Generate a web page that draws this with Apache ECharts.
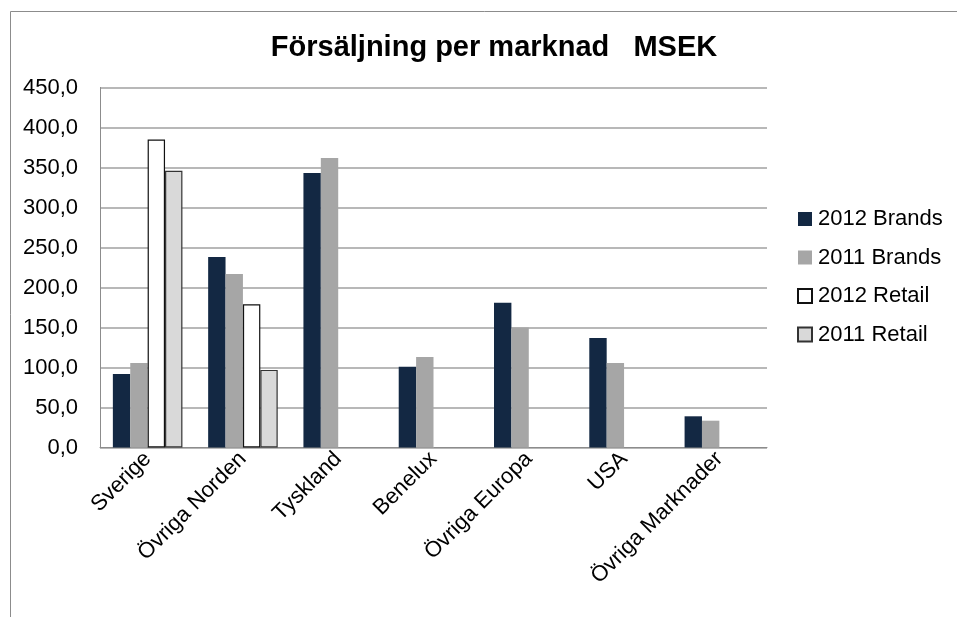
<!DOCTYPE html>
<html>
<head>
<meta charset="utf-8">
<script src="https://cdn.jsdelivr.net/npm/echarts@6/dist/echarts.min.js"></script>
<style>html,body{margin:0;padding:0;background:#fff}#c{width:957px;height:617px}</style>
</head>
<body>
<div id="c"></div>
<script>
const categories = ['Sverige', 'Övriga Norden', 'Tyskland', 'Benelux', 'Övriga Europa', 'USA', 'Övriga Marknader'];
const brands2012 = [92, 238, 343, 101, 181, 137, 39];
const brands2011 = [105.5, 217, 362, 113, 150, 105.5, 33.5];
const retail2012 = [385, 179, null, null, null, null, null];
const retail2011 = [346, 97, null, null, null, null, null];
const yTicks = { min: 0, max: 450, interval: 50 };

const chart = echarts.init(document.getElementById('c'));
const font = 'Liberation Sans, Arial, sans-serif';
function bar(name, data, color, border) {
  return {
    name, type: 'bar', data, barGap: '0%', barCategoryGap: '27%',
    itemStyle: { color, borderColor: border || color, borderWidth: border ? 1.2 : 0 }
  };
}
chart.setOption({
  animation: false,
  backgroundColor: '#fff',
  graphic: [{
    type: 'rect', shape: { x: 10.5, y: 11.5, width: 1000, height: 700 },
    style: { fill: 'none', stroke: '#8c8c8c', lineWidth: 1 }, silent: true
  }],
  title: {
    text: 'Försäljning per marknad   MSEK', left: 489, textAlign: 'center', top: 28,
    textStyle: { fontFamily: font, fontSize: 29, fontWeight: 'bold', color: '#000' }
  },
  legend: {
    orient: 'vertical', left: 797, top: 208, padding: 0, itemGap: 16.5, itemWidth: 14, itemHeight: 14,
    icon: 'rect',
    textStyle: { fontFamily: font, fontSize: 22, lineHeight: 22, color: '#000', padding: [0, 0, 0, 1] },
    data: ['2012 Brands', '2011 Brands', '2012 Retail', '2011 Retail']
  },
  grid: { left: 100, right: 190, top: 87.5, bottom: 169.5, containLabel: false },
  xAxis: {
    type: 'category', data: categories,
    axisLine: { lineStyle: { color: '#8c8c8c', width: 1 } },
    axisTick: { show: false },
    axisLabel: { rotate: 45, fontFamily: font, fontSize: 22, color: '#000', margin: 8, interval: 0 }
  },
  yAxis: {
    type: 'value', min: yTicks.min, max: yTicks.max, interval: yTicks.interval,
    axisLine: { show: true, lineStyle: { color: '#8c8c8c', width: 1 } },
    axisTick: { show: false },
    splitLine: { lineStyle: { color: '#a0a0a0', width: 1.5 } },
    axisLabel: {
      fontFamily: font, fontSize: 22, color: '#000', margin: 22,
      formatter: v => v.toFixed(1).replace('.', ',')
    }
  },
  series: [
    bar('2012 Brands', brands2012, '#132843'),
    bar('2011 Brands', brands2011, '#a6a6a6'),
    bar('2012 Retail', retail2012, '#ffffff', '#111111'),
    bar('2011 Retail', retail2011, '#d9d9d9', '#333333')
  ]
});
</script>
</body>
</html>
